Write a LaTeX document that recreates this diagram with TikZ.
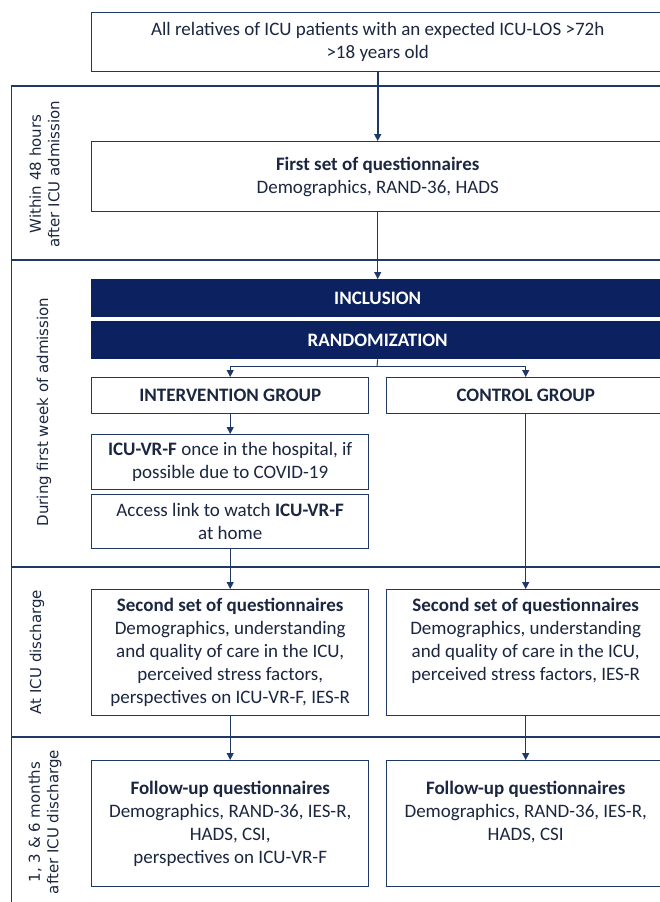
\documentclass[tikz,border=0pt]{standalone}
\usepackage{fontspec}
\setmainfont{Carlito}
\newfontfamily\sidefont{DejaVu Sans}
\usetikzlibrary{arrows.meta}
\definecolor{boxline}{HTML}{1F3864}
\definecolor{darkfill}{HTML}{0B2160}
\definecolor{txtcol}{HTML}{1B2640}
\tikzset{
  box/.style={draw=boxline, line width=1.4pt, fill=white, rectangle, inner sep=0pt,
    anchor=north west, text=txtcol, align=center, font=\fontsize{19}{23}\selectfont},
  darkbox/.style={box, fill=darkfill, draw=darkfill, text=white,
    font=\fontsize{19}{23}\selectfont\bfseries},
  txt/.style={inner sep=0pt, text=txtcol, align=center, font=\fontsize{19}{23}\selectfont},
  band/.style={draw=boxline, line width=1.4pt},
  sidelabel/.style={rotate=90, text=txtcol, align=center, inner sep=0pt,
    font=\sidefont\fontsize{15}{18.5}\selectfont},
  conn/.style={draw=boxline, line width=1pt, -{Triangle[length=7pt,width=7pt]}},
  plainline/.style={draw=boxline, line width=1pt},
}
\begin{document}
\begin{tikzpicture}[x=1pt,y=-1pt]
\useasboundingbox (0,0) rectangle (660,902);
\clip (0,0) rectangle (660,902);
\fill[white] (0,0) rectangle (660,902);
% phase bands
\draw[band] (11.5,86) rectangle (720,260);
\draw[band] (11.5,260) rectangle (720,567);
\draw[band] (11.5,567) rectangle (720,737);
\draw[band] (11.5,737) rectangle (720,915);
% side labels
\node[sidelabel] (lab1) at (44.5,174) {Within 48 hours\\after ICU admission};
\node[sidelabel] (lab2) at (44,412) {During first week of admission};
\node[sidelabel] (lab3) at (37,652) {At ICU discharge};
\node[sidelabel] (lab4) at (45,822) {1, 3 \& 6 months\\after ICU discharge};
% boxes
\node[box, minimum width=572, minimum height=59] (top) at (91,12)
  {All relatives of ICU patients with an expected ICU-LOS >72h\\>18 years old};
\node[box, minimum width=572, minimum height=70] (first) at (91,141)
  {\textbf{First set of questionnaires}\\Demographics, RAND-36, HADS};
\node[darkbox, minimum width=572, minimum height=37] (incl) at (91,279) {INCLUSION};
\node[darkbox, minimum width=572, minimum height=37] (rand) at (91,321) {RANDOMIZATION};
\node[box, minimum width=277, minimum height=36] (intv) at (91,377) {\textbf{INTERVENTION GROUP}};
\node[box, minimum width=278, minimum height=36] (ctrl) at (386,377) {\textbf{CONTROL GROUP}};
\node[box, minimum width=277, minimum height=54.5] (vr) at (91,434)
  {\textbf{ICU-VR-F} once in the hospital, if\\possible due to COVID-19};
\node[box, minimum width=277, minimum height=54] (acc) at (91,494)
  {Access link to watch \textbf{ICU-VR-F}\\at home};
\node[box, minimum width=277, minimum height=126] (s2L) at (91,589) {};
\node[box, minimum width=278, minimum height=126] (s2R) at (386,589) {};
\node[box, minimum width=277, minimum height=126] (fuL) at (91,760) {};
\node[box, minimum width=278, minimum height=126] (fuR) at (386,760) {};
\node[txt] (s2Lt) at (s2L.center)
  {\textbf{Second set of questionnaires}\\Demographics, understanding\\and quality of care in the ICU,\\perceived stress factors,\\perspectives on ICU-VR-F, IES-R};
\node[txt, anchor=north] (s2Rt) at (s2Lt.north -| s2R.north)
  {\textbf{Second set of questionnaires}\\Demographics, understanding\\and quality of care in the ICU,\\perceived stress factors, IES-R};
\node[txt] (fuLt) at (fuL.center)
  {\textbf{Follow-up questionnaires}\\Demographics, RAND-36, IES-R,\\HADS, CSI,\\perspectives on ICU-VR-F};
\node[txt, anchor=north] (fuRt) at (fuLt.north -| fuR.north)
  {\textbf{Follow-up questionnaires}\\Demographics, RAND-36, IES-R,\\HADS, CSI};
% connectors
\draw[conn, line width=1.6pt] (top.south) -- (first.north);
\draw[conn, line width=0.8pt] (first.south) -- (incl.north);
\coordinate (br) at (377,366);
\draw[plainline] (rand.south) -- (br);
\draw[conn] (br) -| (intv.north);
\draw[conn] (br) -| (ctrl.north);
\draw[conn] (intv.south) -- (vr.north);
\draw[conn, line width=0.8pt] (acc.south) -- (s2L.north);
\draw[conn] (ctrl.south) -- (s2R.north);
\draw[conn, line width=0.8pt] (s2L.south) -- (fuL.north);
\draw[conn, line width=0.8pt] (s2R.south) -- (fuR.north);
\end{tikzpicture}
\end{document}
